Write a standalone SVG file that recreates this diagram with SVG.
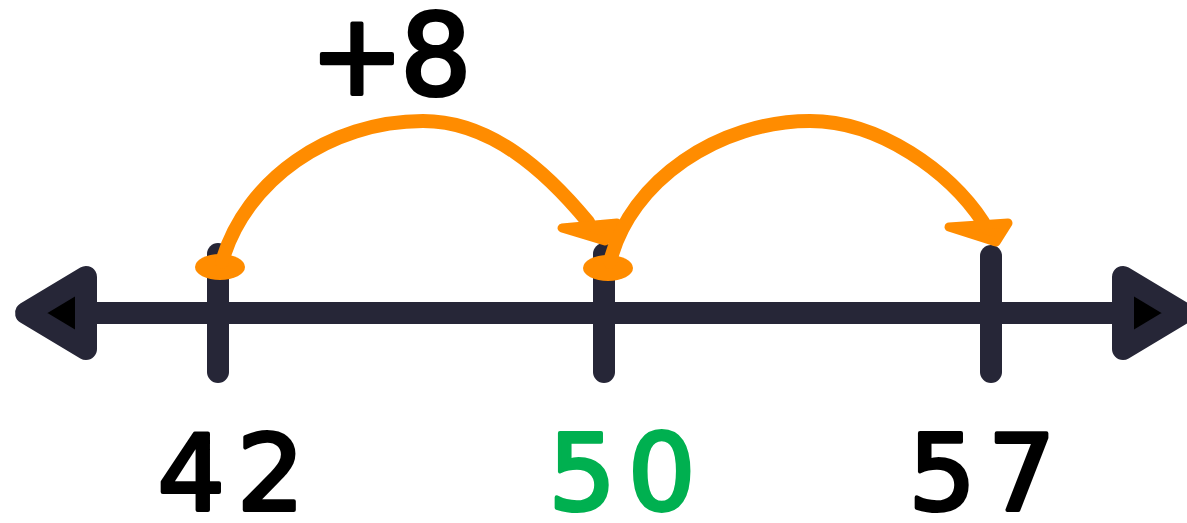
<svg xmlns="http://www.w3.org/2000/svg" width="1187" height="523" viewBox="0 0 1187 523">
<style>
.axis{stroke:#262637;stroke-width:22;stroke-linecap:round;fill:none}
.head{fill:#000;stroke:#262637;stroke-width:22;stroke-linejoin:round}
.jump{fill:none;stroke:#FF8C00;stroke-width:14;stroke-linecap:round}
.tip{fill:#FF8C00;stroke:#FF8C00;stroke-width:9;stroke-linejoin:round}
.dot{fill:#FF8C00}
.num{font-family:"DejaVu Sans",sans-serif;font-weight:400;font-size:106px;letter-spacing:12px;text-anchor:middle;stroke-width:4;stroke-linejoin:round;stroke-linecap:round}
.big{font-size:112px;letter-spacing:0}
</style>
<rect width="1187" height="523" fill="#fff"/>
<g id="number-line">
<line class="axis" x1="86" y1="313" x2="1123" y2="313"/>
<polygon class="head" points="26,313 86,277 86,349"/>
<polygon class="head" points="1183,313 1123,277 1123,349"/>
</g>
<g id="tick-42"><line class="axis" x1="218" y1="254" x2="218" y2="372"/></g>
<g id="tick-50"><line class="axis" x1="604" y1="254" x2="604" y2="372"/></g>
<g id="tick-57"><line class="axis" x1="991" y1="256" x2="991" y2="372"/></g>
<g id="connectors">
<ellipse class="dot" cx="220" cy="267" rx="25" ry="13"/>
<ellipse class="dot" cx="608" cy="268" rx="25" ry="13"/>
<path class="jump" d="M222,262 C245,180 330,121 423,121 C490,121 545,170 588,222"/>
<polygon class="tip" points="562,228 617,223 605,241"/>
<path class="jump" d="M610,262 C630,180 720,121 810,121 C880,121 950,172 983,222"/>
<polygon class="tip" points="949,227 1008,223 996,242"/>
</g>
<g id="label-plus8"><text class="num big" y="94" fill="#000" stroke="#000"><tspan x="357">+</tspan><tspan x="436">8</tspan></text></g>
<g id="label-42"><text class="num" x="237" y="510" fill="#000" stroke="#000">42</text></g>
<g id="label-50"><text class="num" x="628" y="510" fill="#00B050" stroke="#00B050">50</text></g>
<g id="label-57"><text class="num" x="988" y="510" fill="#000" stroke="#000">57</text></g>
</svg>
